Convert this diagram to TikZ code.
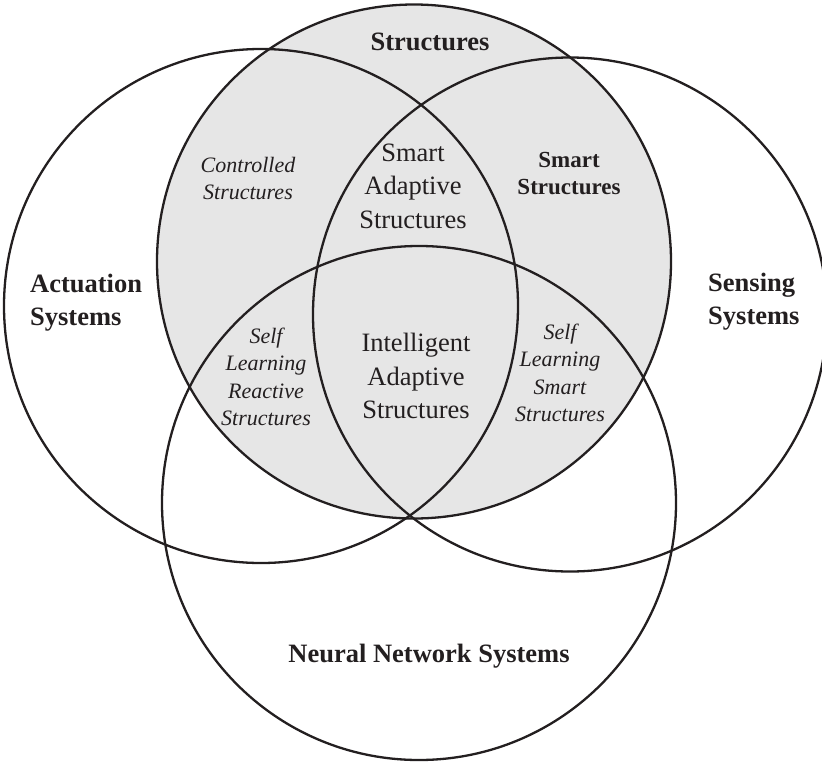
\documentclass[tikz,border=0pt]{standalone}
\usepackage{fontspec}
\setmainfont{Liberation Serif}
\definecolor{inkc}{HTML}{231F20}
\definecolor{shade}{HTML}{E6E6E6}
\begin{document}
\begin{tikzpicture}[x=1pt,y=-1pt,
  ring/.style={circle, draw=inkc, line width=2.3pt, minimum size=514pt, inner sep=0pt},
  bigb/.style={font=\fontsize{26.5}{33}\selectfont\bfseries, text=inkc, inner sep=0pt},
  regl/.style={font=\fontsize{26.5}{33.5}\selectfont, text=inkc, align=center, inner sep=0pt},
  itl/.style={font=\fontsize{22}{27.3}\selectfont\itshape, text=inkc, align=center, inner sep=0pt}]
\useasboundingbox (0,0) rectangle (822,763);
\node[ring, fill=shade] (struct) at (414,261.5) {};
\node[ring] (act) at (261,306) {};
\node[ring] (sens) at (570,314.5) {};
\node[ring] (neur) at (419,503) {};
\node[bigb, anchor=base] (tstruct) at (430,50) {Structures};
\node[itl] (tctrl) at (248,178.5) {Controlled\\Structures};
\node[regl] (tsas) at (413,186) {Smart\\Adaptive\\Structures};
\node[font=\fontsize{23}{27}\selectfont\bfseries, text=inkc, align=center, inner sep=0pt] (tss) at (569,173.5) {Smart\\Structures};
\node[bigb, align=left, anchor=west] (tact) at (30,303) {Actuation\\Systems};
\node[bigb, align=left, anchor=west] (tsen) at (708,302) {Sensing\\Systems};
\node[regl] (tias) at (416,376) {Intelligent\\Adaptive\\Structures};
\node[itl] (tslr) at (266,377) {Self\\Learning\\Reactive\\Structures};
\node[itl] (tsls) at (560,373) {Self\\Learning\\Smart\\Structures};
\node[bigb, anchor=base] (tnn) at (429,662) {Neural Network Systems};
\end{tikzpicture}
\end{document}
